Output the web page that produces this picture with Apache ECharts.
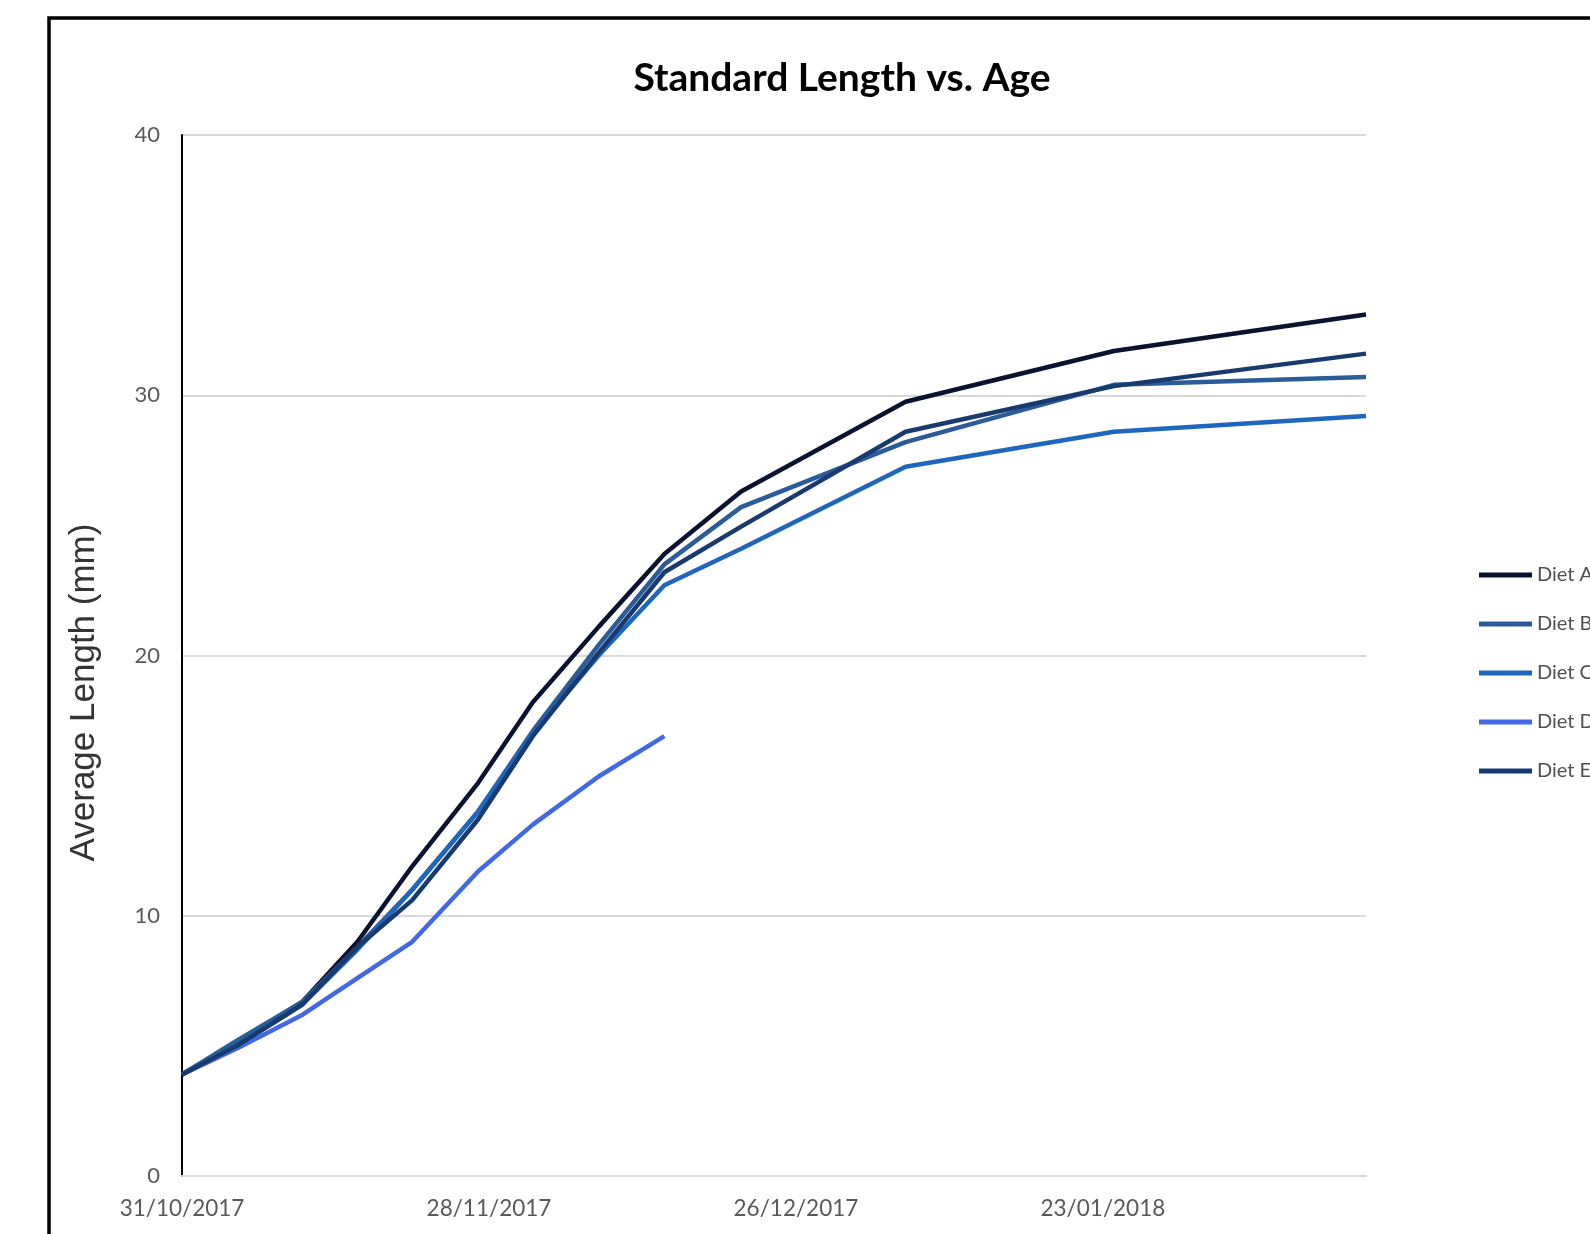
<!DOCTYPE html>
<html>
<head>
<meta charset="utf-8">
<title>Standard Length vs. Age</title>
<script src="https://cdn.jsdelivr.net/npm/echarts@6/dist/echarts.min.js"></script>
<style>
  html, body { margin: 0; padding: 0; background: #fff; }
  #lengthChart { width: 1590px; height: 1234px; }
</style>
</head>
<body>
<div id="lengthChart"></div>
<script>
// measurement dates (dd/mm/yyyy)
var sampleDates = ['31/10/2017', '05/11/2017', '11/11/2017', '16/11/2017', '21/11/2017', '27/11/2017',
  '02/12/2017', '08/12/2017', '14/12/2017', '21/12/2017', '05/01/2018', '24/01/2018', '16/02/2018'];

var dietA = [3.9, 5.1, 6.7, 9.0, 11.9, 15.1, 18.2, 21.1, 23.9, 26.3, 29.75, 31.7, 33.1];
var dietB = [3.9, 5.2, 6.7, 8.8, 11.0, 14.0, 17.1, 20.4, 23.5, 25.7, 28.2, 30.4, 30.7];
var dietC = [3.9, 5.0, 6.6, 8.7, 11.0, 14.0, 17.0, 20.0, 22.7, 24.1, 27.25, 28.6, 29.2];
var dietD = [3.9, 4.9, 6.2, 7.6, 9.0, 11.7, 13.5, 15.35, 16.9];
var dietE = [3.9, 5.0, 6.6, 8.8, 10.6, 13.7, 16.9, 20.1, 23.2, 24.95, 28.6, 30.35, 31.6];

var seriesNames = ['Diet A', 'Diet B', 'Diet C', 'Diet D', 'Diet E'];
var colors = ['#0b1230', '#2a5c9a', '#1f66be', '#4169e6', '#183a6e'];

// x axis tick labels, every 28 days from the first date
var xTickLabels = ['31/10/2017', '28/11/2017', '26/12/2017', '23/01/2018'];
var xTickStep = 28;
var yTicks = [0, 10, 20, 30, 40];

function dayNumber(s) {
  var p = s.split('/');
  return Date.UTC(+p[2], +p[1] - 1, +p[0]) / 86400000;
}
var day0 = dayNumber(sampleDates[0]);
var sampleDays = sampleDates.map(function (d) { return dayNumber(d) - day0; });

function pairs(values) {
  return values.map(function (v, i) { return [sampleDays[i], v]; });
}

var chart = echarts.init(document.getElementById('lengthChart'));
var labelFont = 'Lato, "Open Sans", sans-serif';

var seriesData = [dietA, dietB, dietC, dietD, dietE].map(function (vals, i) {
  return {
    name: seriesNames[i],
    type: 'line',
    symbol: 'none',
    smooth: false,
    data: pairs(vals),
    lineStyle: { width: 4.5, color: colors[i] },
    itemStyle: { color: colors[i] }
  };
});

var option = {
  backgroundColor: '#fff',
  animation: false,
  color: colors,
  title: {
    text: 'Standard Length vs. Age',
    left: 837,
    top: 54,
    textAlign: 'center',
    textStyle: { fontFamily: labelFont, fontWeight: 'bold', fontSize: 39, color: '#000' }
  },
  graphic: [{
    type: 'rect',
    shape: { x: 49, y: 18, width: 1700, height: 1400 },
    style: { fill: 'none', stroke: '#000', lineWidth: 3.5 },
    silent: true
  }],
  legend: {
    orient: 'vertical',
    left: 1474,
    top: 560,
    icon: 'rect',
    itemWidth: 53,
    itemHeight: 5,
    itemGap: 29,
    textStyle: { fontFamily: labelFont, fontSize: 20, color: '#505050', lineHeight: 20 },
    data: seriesNames
  },
  grid: { left: 182, right: 224, top: 135, bottom: 58, containLabel: false },
  xAxis: {
    type: 'value',
    min: 0,
    max: sampleDays[sampleDays.length - 1],
    interval: xTickStep,
    axisLine: { show: true, lineStyle: { color: '#d9d9d9', width: 2 } },
    axisTick: { show: false },
    splitLine: { show: false },
    axisLabel: {
      margin: 21,
      showMaxLabel: false,
      fontFamily: labelFont,
      fontSize: 22.5,
      color: '#595959',
      formatter: function (v) { return xTickLabels[Math.round(v / xTickStep)] || ''; }
    }
  },
  yAxis: {
    type: 'value',
    min: yTicks[0],
    max: yTicks[yTicks.length - 1],
    interval: 10,
    name: 'Average Length (mm)',
    nameLocation: 'middle',
    nameGap: 80,
    nameTextStyle: { fontFamily: '"Liberation Sans", Arial, sans-serif', fontSize: 35, color: '#333', padding: [0, 74, 0, 0] },
    axisLine: { show: true, lineStyle: { color: '#000', width: 2 } },
    axisTick: { show: false },
    splitLine: { show: true, lineStyle: { color: '#d9d9d9', width: 2 } },
    axisLabel: { margin: 22, fontFamily: labelFont, fontSize: 22, color: '#595959' }
  },
  series: seriesData
};
chart.setOption(option);
</script>
</body>
</html>
